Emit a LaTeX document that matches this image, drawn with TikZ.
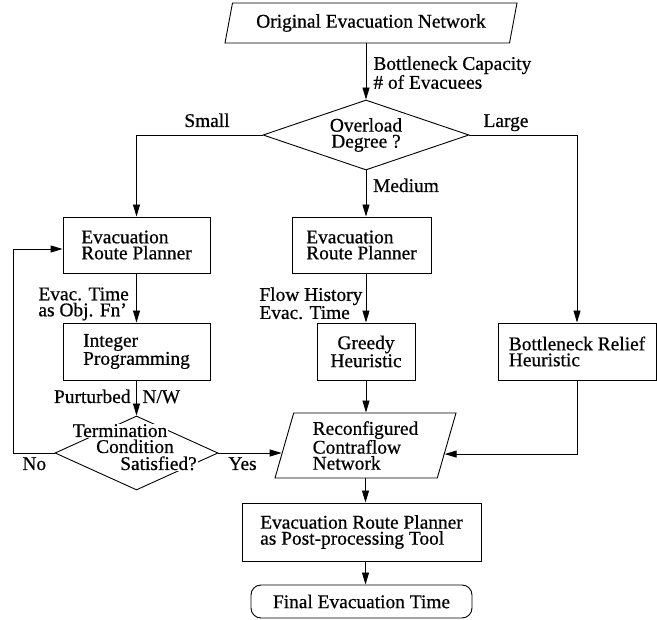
\documentclass[tikz,border=0pt]{standalone}
\usepackage{fontspec}
\setmainfont{Liberation Serif}[FakeBold=0.6]
\usetikzlibrary{shapes.geometric,arrows.meta,calc}
\begin{document}
\begin{tikzpicture}[x=1pt,y=-1pt,
  font=\fontsize{19.4}{16}\selectfont,
  line width=0.9pt,
  arr/.style={-{Triangle[length=12pt,width=7pt]}},
  box/.style={draw, rectangle, inner sep=0pt, align=left},
  para/.style={draw, trapezium, trapezium stretches body, inner sep=0pt, align=left},
  lbl/.style={inner sep=0pt, anchor=base},
  mlbl/.style={inner sep=0pt, anchor=north west, align=left},
  dtext/.style={fill=white, inner xsep=1pt, inner ysep=0.5pt, anchor=base}
]
\useasboundingbox (0,0) rectangle (657,620);

% nodes
\node[para, trapezium left angle=67, trapezium right angle=113,
      minimum width=292pt, minimum height=40pt] (orig) at (371,23) {Original Evacuation Network};
\node[draw, diamond, shape aspect=2.94, minimum width=206pt, minimum height=70pt,
      inner sep=0pt, align=center] (ovl) at (366,135) {Overload\\Degree ?};

\node[box, minimum width=147pt, minimum height=56pt] (erp1) at (136.5,245) {Evacuation\\Route Planner};
\node[box, minimum width=147pt, minimum height=57pt] (ip) at (136.5,351.5) {Integer\\Programming};
\node[box, minimum width=139pt, minimum height=56pt] (erp2) at (361.5,245) {Evacuation\\Route Planner};
\node[box, align=center, minimum width=98pt, minimum height=57pt] (greedy) at (366,351.5) {Greedy\\Heuristic};
\node[box, minimum width=158pt, minimum height=57pt] (brh) at (577,351.5) {Bottleneck Relief\\Heuristic};

\node[draw, diamond, minimum width=163pt, minimum height=74pt, inner sep=0pt] (term) at (136.5,453) {};
\node[dtext] (t1) at (120,437) {Termination};
\node[dtext] (t2) at (135,453) {Condition};
\node[dtext] (t3) at (158.5,470) {Satisfied?};

\node[para, trapezium left angle=69, trapezium right angle=111,
      minimum width=181pt, minimum height=65pt] (recon) at (365.5,445.5) {Reconfigured\\Contraflow\\Network};
\node[box, minimum width=239pt, minimum height=58pt] (post) at (361.5,532) {Evacuation Route Planner\\as Post-processing Tool};
\node[draw, rounded corners=10pt, inner sep=0pt, minimum width=221pt, minimum height=33pt] (final) at (361.5,601.5) {Final Evacuation Time};

% labels
\node[mlbl] (bncap) at (373,56) {Bottleneck Capacity\\\# of Evacuees};
\node[lbl] (small) at (207,127) {Small};
\node[lbl] (large) at (506,127) {Large};
\node[lbl] (medium) at (406,192) {Medium};
\node[mlbl] (evt) at (38,287) {Evac. Time\\as Obj. Fn'};
\node[mlbl] (flow) at (259,287) {Flow History\\Evac. Time};
\node[inner sep=0pt, anchor=base east] (purt) at (131,403) {Purturbed};
\node[inner sep=0pt, anchor=base west] (nw) at (142,403) {N/W};
\node[inner sep=0pt, anchor=base west] (no) at (22,470) {No};
\node[inner sep=0pt, anchor=base west] (yes) at (228,470) {Yes};

% helper coordinates
\coordinate (rL) at ($(recon.top left corner)!0.615!(recon.bottom left corner)$);
\coordinate (rR) at ($(recon.top right corner)!0.63!(recon.bottom right corner)$);
\coordinate (loopc) at (13,453);

% connectors
\draw[arr] (orig.south -| ovl.north) -- (ovl.north);
\draw[arr] (ovl.west) -| (erp1.north);
\draw[arr] (ovl.east) -| (brh.north);
\draw[arr] (ovl.south) -- (ovl.south |- erp2.north);
\draw[arr] (erp1.south) -- (ip.north);
\draw[arr] (ip.south) -- (term.north);
\draw[arr] (erp2.south -| greedy.north) -- (greedy.north);
\draw[arr] (greedy.south) -- (greedy.south |- recon.north);
\draw[arr] (brh.south) |- (rR);
\draw[arr] (term.east) -- (term.east -| rL);
\draw[arr] (term.west) -- (loopc) |- ([yshift=-4pt]erp1.west);
\draw[arr] (recon.south) -- (recon.south |- post.north);
\draw[arr] (post.south -| recon.south) -- (final.north -| recon.south);
\end{tikzpicture}
\end{document}
